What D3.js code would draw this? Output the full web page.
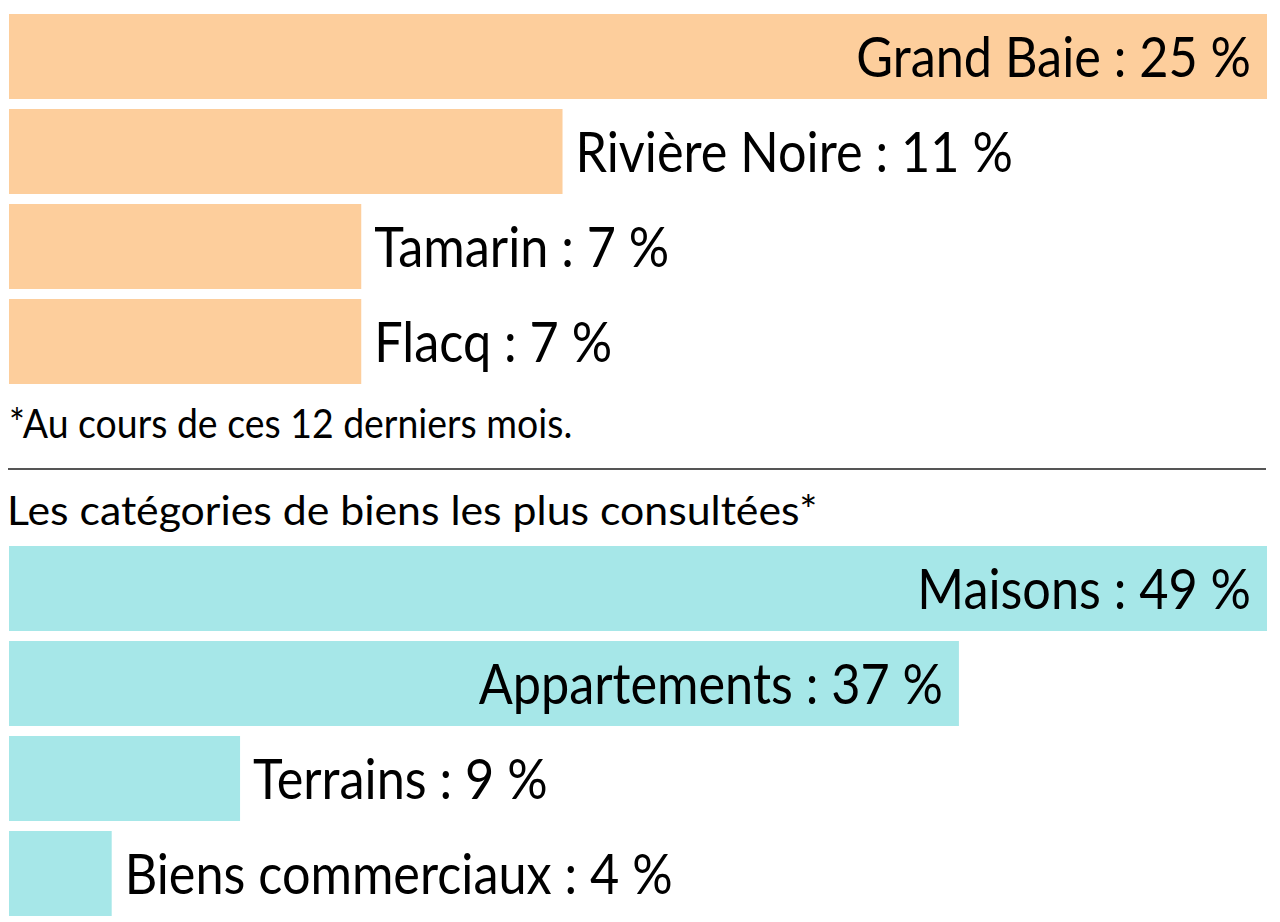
<!DOCTYPE html>
<html>
<head>
<meta charset="utf-8">
<script src="https://cdn.jsdelivr.net/npm/d3@7"></script>
<style>
  html, body { margin: 0; padding: 0; background: #ffffff; }
  svg { display: block; }
  text { font-family: Lato, "Open Sans", sans-serif; fill: #000; }
</style>
</head>
<body>
<svg id="chart" width="1280" height="922"></svg>
<script>
// Top section: most consulted areas
const regions = ["Grand Baie", "Rivière Noire", "Tamarin", "Flacq"];
const regionValues = [25, 11, 7, 7];

// Bottom section: most consulted property categories
const categories = ["Maisons", "Appartements", "Terrains", "Biens commerciaux"];
const categoryValues = [49, 37, 9, 4];

const footnote = "*Au cours de ces 12 derniers mois.";
const sectionTitle = "Les catégories de biens les plus consultées*";

const svg = d3.select("#chart");

function fmt(name, v) { return name + " : " + v + " %"; }

function drawSection(names, values, color, y0, y1) {
  const data = names.map((n, i) => ({ name: n, value: values[i] }));
  const maxV = d3.max(values);
  const x = d3.scaleLinear().domain([0, maxV]).range([9, 1267]);
  const y = d3.scaleBand().domain(names).range([y0, y1]).paddingInner(10 / 95).paddingOuter(0);
  const g = svg.append("g");
  g.selectAll("rect").data(data).join("rect")
    .attr("x", x(0))
    .attr("y", d => y(d.name))
    .attr("width", d => x(d.value) - x(0))
    .attr("height", y.bandwidth())
    .attr("fill", color);
  g.selectAll("text").data(data).join("text")
    .style("font-size", "56px")
    .attr("text-anchor", d => d.value / maxV > 0.5 ? "end" : "start")
    .attr("transform", d => {
      const tx = d.value / maxV > 0.5 ? x(d.value) - 16 : x(d.value) + 13;
      const ty = y(d.name) + y.bandwidth() / 2 + 20;
      return `translate(${tx},${ty}) scale(0.9,1)`;
    })
    .text(d => fmt(d.name, d.value));
}

drawSection(regions, regionValues, "#fdce9c", 14, 384);

svg.append("text")
  .attr("transform", "translate(9,438) scale(0.935,1)")
  .style("font-size", "40px")
  .text(footnote);

svg.append("line")
  .attr("x1", 8).attr("x2", 1266)
  .attr("y1", 469).attr("y2", 469)
  .attr("stroke", "#555").attr("stroke-width", 2);

svg.append("text")
  .attr("transform", "translate(7,525) scale(1.07,1)")
  .style("font-size", "40px")
  .text(sectionTitle);

drawSection(categories, categoryValues, "#a6e7e8", 546, 916);
</script>
</body>
</html>
